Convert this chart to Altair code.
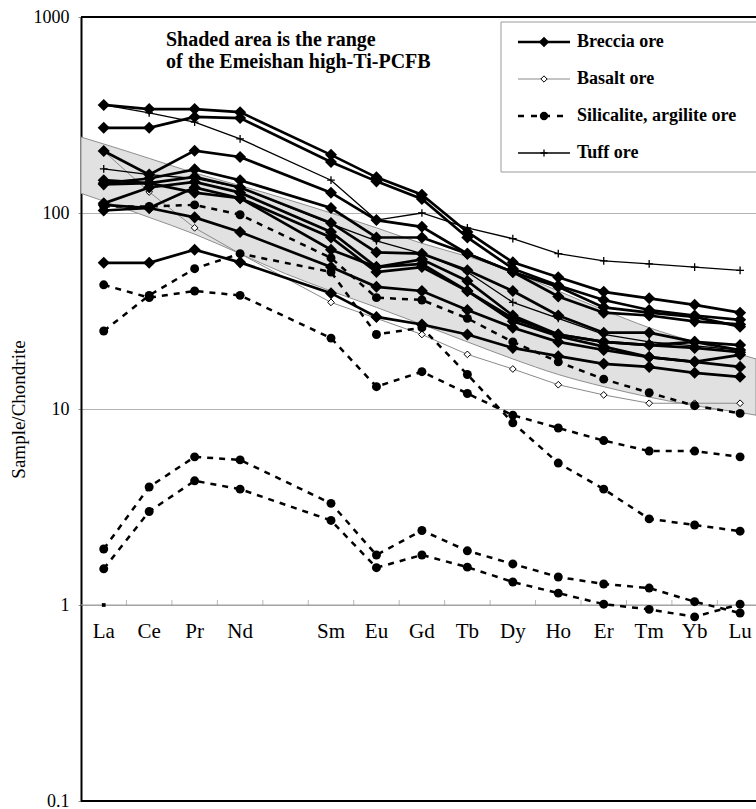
import altair as alt
import pandas as pd

# Chondrite-normalised REE patterns; Pm has no analysis and only holds a slot on the axis
elements = ["La", "Ce", "Pr", "Nd", "Pm", "Sm", "Eu", "Gd", "Tb", "Dy", "Ho", "Er", "Tm", "Yb", "Lu"]
analysed = ["La", "Ce", "Pr", "Nd", "Sm", "Eu", "Gd", "Tb", "Dy", "Ho", "Er", "Tm", "Yb", "Lu"]

breccia_ore = [
    [356, 339, 339, 327, 198, 152, 124, 80, 56, 47, 39.6, 36.7, 34, 31],
    [272, 272, 309, 305, 182, 145, 118, 75, 52, 42.7, 36, 32, 30, 28.5],
    [207, 157, 208, 193, 127, 92, 85, 62, 50, 42, 33, 31, 29.5, 26.3],
    [142, 150, 167, 147, 106, 75, 75, 62, 50, 37.5, 31, 30, 28, 27],
    [147, 142, 153, 135, 89, 63, 62, 51, 40, 30, 24.5, 24.5, 22, 21.2],
    [112, 135, 144, 127, 80, 53, 58, 45, 30, 24, 22, 21.2, 20.5, 19.5],
    [103, 106, 135, 119, 75, 50, 53, 40, 28, 23.5, 20.8, 18.4, 17.4, 18.9],
    [110, 106, 95, 80, 53, 42, 40, 32, 26, 22, 20, 18.4, 17.4, 16.4],
    [140, 142, 127, 119, 65, 53, 55, 40, 29, 24, 22, 21.2, 22, 20],
    [55.7, 55.7, 65, 56, 39, 29.5, 27, 24, 20.5, 18.6, 17, 16.4, 15.3, 14.6],
]
basalt_ore = [
    [207, 128, 84, 62, 35, 29, 24, 19, 16, 13.3, 11.8, 10.7, 10.7, 10.7],
]
silicalite_argilite_ore = [
    [108, 108, 110, 98, 59, 37, 36, 29, 22, 17.4, 14.2, 12.1, 10.4, 9.5],
    [25, 38, 52, 62, 50, 24, 26, 15, 8.5, 5.3, 3.9, 2.75, 2.56, 2.38],
    [43, 37, 40, 38, 23, 13, 15.5, 12, 9.3, 8.0, 6.9, 6.1, 6.1, 5.7],
    [1.93, 4.0, 5.7, 5.5, 3.3, 1.8, 2.4, 1.89, 1.62, 1.39, 1.28, 1.22, 1.04, 0.91],
    [1.53, 3.0, 4.3, 3.9, 2.7, 1.55, 1.8, 1.56, 1.31, 1.15, 1.01, 0.95, 0.87, 1.01],
]
tuff_ore = [
    [356, 324, 291, 239, 147, 92, 100, 84, 74, 62, 57, 55, 53, 51],
    [168, 157, 150, 135, 88, 72, 62, 50, 35, 29, 24, 22, 21, 20],
]

# Range of the Emeishan high-Ti PCFB (upper / lower envelope)
band_pos = [-0.5, 0, 1, 2, 3, 4, 5, 6, 7, 8, 9, 10, 11, 12, 13, 14, 14.35]
band_upper = [244, 225, 190, 160, 138, 118, 100, 84, 70, 60, 50, 40, 32, 26, 22, 19, 18]
band_lower = [126, 115, 95, 78, 62, 49, 40, 33, 27, 22, 18, 15, 13, 11.5, 10.4, 9.6, 9.3]

# Lone point sitting on the unity line under La
unity_point_el = ["La"]
unity_point_val = [1.0]

y_ticks = [0.1, 1, 10, 100, 1000]
frame_values = [1000, 0.1]

SERIF = "Liberation Serif"


def long_table(group, series):
    rows = []
    for i, s in enumerate(series):
        for el, v in zip(analysed, s):
            rows.append({"group": group, "sample": f"{group} {i + 1}",
                         "pos": elements.index(el), "value": v})
    return pd.DataFrame(rows)


df_breccia = long_table("Breccia ore", breccia_ore)
df_basalt = long_table("Basalt ore", basalt_ore)
df_sil = long_table("Silicalite, argilite ore", silicalite_argilite_ore)
df_tuff = long_table("Tuff ore", tuff_ore)
df_band = pd.DataFrame({"pos": band_pos, "value": band_upper, "lower": band_lower})
df_labels = pd.DataFrame({"label": analysed,
                          "pos": [elements.index(e) for e in analysed],
                          "value": [1.0] * len(analysed)})
df_ticks = pd.DataFrame({"pos": [i + 0.5 for i in range(len(elements) - 1)],
                         "value": [1.0] * (len(elements) - 1)})
df_unity = pd.DataFrame({"pos": [elements.index(e) for e in unity_point_el],
                         "value": unity_point_val})
df_frame = pd.DataFrame({"value": frame_values})
df_axisline = pd.DataFrame({"value": [1.0]})

xs = alt.Scale(domain=[-0.5, 14.35], nice=False, zero=False)
ys = alt.Scale(type="log", domain=[0.1, 1000], nice=False)
y_axis = alt.Axis(values=y_ticks, format="~g", title="Sample/Chondrite",
                  labelFont=SERIF, labelFontSize=18, labelColor="black", labelPadding=9,
                  titleFont=SERIF, titleFontSize=19, titleFontWeight="normal",
                  titleColor="black", titlePadding=5,
                  tickSize=3, tickColor="#999999", domainColor="black", domainWidth=2,
                  grid=True, gridColor="#b3b3b3", gridWidth=1)

X = alt.X("pos:Q", scale=xs, axis=None)
Y = alt.Y("value:Q", scale=ys, axis=y_axis)

band = alt.Chart(df_band).mark_area(
    fill="#e1e1e1", stroke="#8f8f8f", strokeWidth=1, interpolate="monotone"
).encode(x=X, y=Y, y2="lower:Q")

axis_line = alt.Chart(df_axisline).mark_rule(color="#9a9a9a", strokeWidth=1).encode(y=Y)
axis_ticks = alt.Chart(df_ticks).mark_tick(
    orient="vertical", color="#9a9a9a", thickness=1, size=6, yOffset=-2
).encode(x=X, y=Y)
labels = alt.Chart(df_labels).mark_text(
    font=SERIF, fontSize=21, color="black", baseline="middle", dy=27
).encode(x=X, y=Y, text="label:N")

frame = alt.Chart(df_frame).mark_rule(color="black", strokeWidth=2).encode(y=Y)

basalt_line = alt.Chart(df_basalt).mark_line(color="#8a8a8a", strokeWidth=1).encode(
    x=X, y=Y, detail="sample:N")
basalt_pts = alt.Chart(df_basalt).mark_point(
    shape="diamond", size=45, filled=True, fill="white", stroke="black", strokeWidth=1, opacity=1
).encode(x=X, y=Y)

sil_line = alt.Chart(df_sil).mark_line(color="black", strokeWidth=2.5, strokeDash=[6, 6]).encode(
    x=X, y=Y, detail="sample:N")
sil_pts = alt.Chart(df_sil).mark_point(
    shape="circle", size=80, filled=True, color="black", opacity=1).encode(x=X, y=Y)

tuff_line = alt.Chart(df_tuff).mark_line(color="black", strokeWidth=1.3).encode(
    x=X, y=Y, detail="sample:N")
PLUS = "M-1,0L1,0M0,-1L0,1"
tuff_pts = alt.Chart(df_tuff).mark_point(
    shape=PLUS, size=60, filled=False, stroke="black", strokeWidth=1.3, opacity=1
).encode(x=X, y=Y)

brec_line = alt.Chart(df_breccia).mark_line(color="black", strokeWidth=2.7).encode(
    x=X, y=Y, detail="sample:N")
brec_pts = alt.Chart(df_breccia).mark_point(
    shape="diamond", size=145, filled=True, color="black", opacity=1).encode(x=X, y=Y)

unity_pt = alt.Chart(df_unity).mark_point(
    shape="square", size=14, filled=True, color="black", opacity=1).encode(x=X, y=Y)

# Legend box and entries
one = pd.DataFrame({"k": [0]})
legend_box = alt.Chart(one).mark_rect(fill="white", stroke="#9a9a9a", strokeWidth=1).encode(
    x=alt.value(420), x2=alt.value(720), y=alt.value(5), y2=alt.value(155))

legend_entries = [
    ("Breccia ore", dict(color="black", strokeWidth=2.7),
     dict(shape="diamond", size=110, filled=True, color="black")),
    ("Basalt ore", dict(color="#8a8a8a", strokeWidth=1),
     dict(shape="diamond", size=40, filled=True, fill="white", stroke="black", strokeWidth=1)),
    ("Silicalite, argilite ore", dict(color="black", strokeWidth=2.5, strokeDash=[6, 7]),
     dict(shape="circle", size=70, filled=True, color="black")),
    ("Tuff ore", dict(color="black", strokeWidth=1.3),
     dict(shape=PLUS, size=50, filled=False, stroke="black", strokeWidth=1.3)),
]
legend_layers = [legend_box]
for i, (name, line_kw, pt_kw) in enumerate(legend_entries):
    ly = 25 + i * 37
    legend_layers.append(alt.Chart(one).mark_rule(**line_kw).encode(
        x=alt.value(437), x2=alt.value(489), y=alt.value(ly)))
    legend_layers.append(alt.Chart(one).mark_point(opacity=1, **pt_kw).encode(
        x=alt.value(463), y=alt.value(ly)))
    legend_layers.append(alt.Chart(one).mark_text(
        text=name, font=SERIF, fontSize=18, fontWeight="bold", color="black",
        align="left", baseline="middle").encode(x=alt.value(496), y=alt.value(ly)))

note = [
    alt.Chart(one).mark_text(text=t, font=SERIF, fontSize=20, fontWeight="bold", color="black",
                             align="left", baseline="middle").encode(x=alt.value(85), y=alt.value(yy))
    for t, yy in [("Shaded area is the range", 23), ("of the Emeishan high-Ti-PCFB", 45)]
]

chart = alt.layer(
    band, axis_line, axis_ticks, labels,
    basalt_line, basalt_pts, sil_line, sil_pts, tuff_line, tuff_pts, brec_line, brec_pts,
    unity_pt, frame, *legend_layers, *note
).properties(
    width=675, height=784,
    padding={"left": 81, "top": 17, "right": 0, "bottom": 8},
    autosize=alt.AutoSizeParams(type="none"),
).configure_view(stroke=None).configure(background="white")

chart.save("out.html", embed_options={"renderer": "svg", "actions": False})
